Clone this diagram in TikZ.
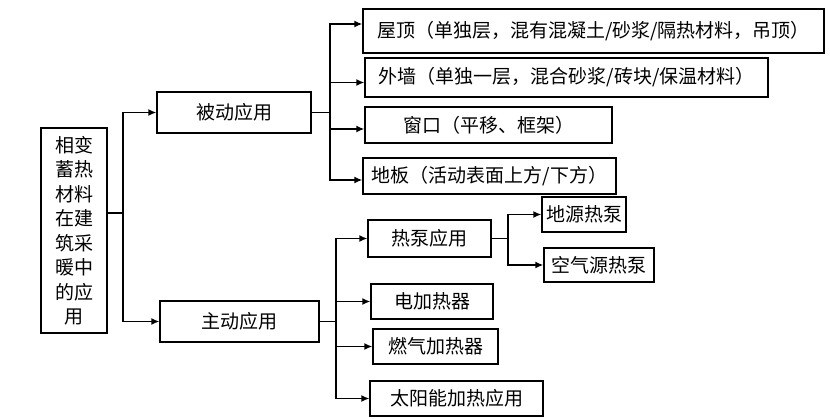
\documentclass[tikz,border=0pt]{standalone}
\usepackage{fontspec}
\newfontfamily\cjk{Noto Sans CJK SC}
\usetikzlibrary{arrows.meta}

\begin{document}
\begin{tikzpicture}[x=1pt,y=-1pt]
	\tikzstyle{itembox}=[draw, line width=1.4pt, inner sep=0pt, font=\cjk\fontsize{19}{24.5}\selectfont]
	\tikzstyle{link}=[line width=1.4pt]
	\tikzstyle{arr}=[line width=1.4pt, -{Latex[length=8pt,width=7pt]}]
	\useasboundingbox (0,0) rectangle (830,419);
	%
	% root
	\node[itembox, minimum width=66pt, minimum height=205pt, align=center] (root) at (74,230.5)
	  {相变\\蓄热\\材料\\在建\\筑采\\暖中\\的应\\用};
	%
	% second level
	\node[itembox, minimum width=154pt, minimum height=41pt] (passive) at (234,112.5) {被动应用};
	\node[itembox, minimum width=159pt, minimum height=41pt] (active) at (239.5,321.5) {主动应用};
	%
	% passive uses
	\node[itembox, minimum width=461pt, minimum height=44pt] (roof) at (593.5,31) {屋顶（单独层，混有混凝土/砂浆/隔热材料，吊顶）};
	\node[itembox, minimum width=403pt, minimum height=39pt] (wall) at (566.5,77.5) {外墙（单独一层，混合砂浆/砖块/保温材料）};
	\node[itembox, minimum width=247pt, minimum height=36pt] (window) at (488.5,125) {窗口（平移、框架）};
	\node[itembox, minimum width=253pt, minimum height=36pt] (floor) at (489.5,176) {地板（活动表面上方/下方）};
	%
	% active uses
	\node[itembox, minimum width=123pt, minimum height=37pt] (pump) at (429.5,238.5) {热泵应用};
	\node[itembox, minimum width=122pt, minimum height=35pt] (elec) at (432,301.5) {电加热器};
	\node[itembox, minimum width=125pt, minimum height=35pt] (gas) at (435.5,346.5) {燃气加热器};
	\node[itembox, minimum width=173pt, minimum height=35pt] (solar) at (456.5,398.5) {太阳能加热应用};
	%
	% heat pumps
	\node[itembox, minimum width=84pt, minimum height=35pt] (ground) at (584,214.5) {地源热泵};
	\node[itembox, minimum width=110pt, minimum height=34pt] (air) at (599,265) {空气源热泵};
	%
	% connectors
	\coordinate (rb) at (123,213);
	\coordinate (pb) at (330,112.5);
	\coordinate (ab) at (336,321.5);
	\coordinate (hb) at (508,238.5);
	
	\draw[link] (root.east |- rb) -- (rb);
	\draw[arr] (rb) |- (passive.west);
	\draw[arr] (rb) |- (active.west);
	
	\draw[link] (passive.east) -- (pb);
	\draw[arr] (pb) |- ([yshift=7pt]roof.west);
	\draw[arr] (pb) |- ([yshift=-5pt]wall.west);
	\draw[arr] (pb) |- ([yshift=-4pt]window.west);
	\draw[arr] (pb) |- ([yshift=-4pt]floor.west);
	
	\draw[link] (active.east) -- (ab);
	\draw[arr] (ab) |- (pump.west);
	\draw[arr] (ab) |- (elec.west);
	\draw[arr] (ab) |- (gas.west);
	\draw[arr] (ab) |- (solar.west);
	
	\draw[link] (pump.east) -- (hb);
	\draw[arr] (hb) |- (ground.west);
	\draw[arr] (hb) |- (air.west);
\end{tikzpicture}
\end{document}
